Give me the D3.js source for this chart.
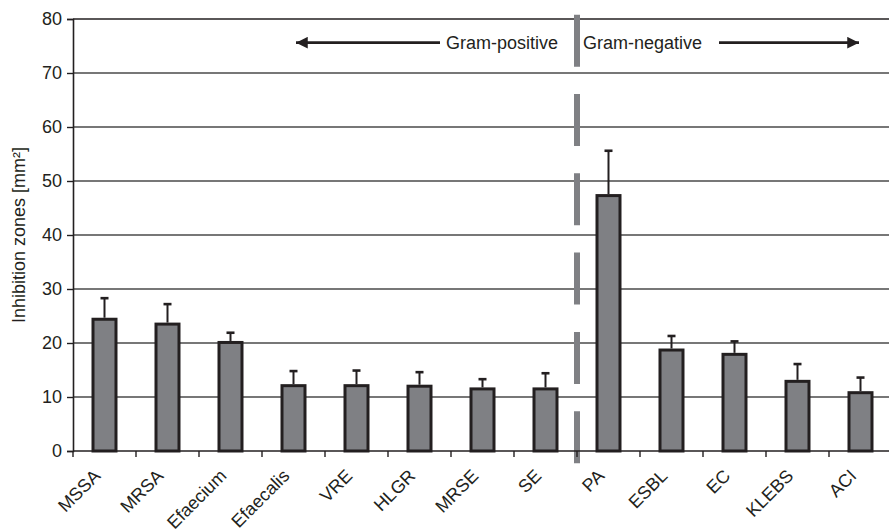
<!DOCTYPE html>
<html>
<head>
<meta charset="utf-8">
<script src="https://cdn.jsdelivr.net/npm/d3@7/dist/d3.min.js"></script>
<style>
  body { margin: 0; background: #fff; }
  svg { display: block; font-family: "Liberation Sans", Arial, sans-serif; }
</style>
</head>
<body>
<svg id="chart" width="889" height="531"></svg>
<script>
// data
var categories = ["MSSA", "MRSA", "Efaecium", "Efaecalis", "VRE", "HLGR", "MRSE", "SE",
                  "PA", "ESBL", "EC", "KLEBS", "ACI"];
var means = [24.4, 23.5, 20.1, 12.1, 12.1, 12.0, 11.5, 11.5, 47.3, 18.7, 17.9, 12.9, 10.8];
var upper = [28.3, 27.2, 21.9, 14.8, 14.9, 14.6, 13.3, 14.4, 55.6, 21.3, 20.3, 16.1, 13.6];
var yTicks = [0, 10, 20, 30, 40, 50, 60, 70, 80];
var firstNegative = "PA";

var svg = d3.select("#chart");
// note: "top" is taken by window.top, so plot edges get their own names
var plotLeft = 73, plotRight = 892, plotTop = 19, plotBottom = 451;
var ink = "#231f20", barFill = "#7f8084";
var fontSize = "18px";

var x = d3.scaleBand()
  .domain(categories)
  .range([plotLeft, plotRight])
  .paddingInner(0.635)
  .paddingOuter(0.3175);
var y = d3.scaleLinear().domain([0, 80]).range([plotBottom, plotTop]);

var rows = categories.map(function (c, i) {
  return { name: c, mean: means[i], upper: upper[i] };
});

// horizontal gridlines
svg.append("g").selectAll("line")
  .data(yTicks.filter(function (d) { return d > 0; }))
  .enter().append("line")
  .attr("x1", plotLeft).attr("x2", 889)
  .attr("y1", function (d) { return y(d); })
  .attr("y2", function (d) { return y(d); })
  .attr("stroke", function (d) { return d === 80 ? ink : "#4a4a4a"; })
  .attr("stroke-width", 1.4);

// y axis
var yAxis = svg.append("g")
  .attr("transform", "translate(" + plotLeft + ",0)")
  .call(d3.axisLeft(y).tickValues(yTicks).tickSize(6).tickPadding(5));
yAxis.select(".domain").attr("stroke", ink).attr("stroke-width", 1.6);
yAxis.selectAll(".tick line").attr("stroke", ink).attr("stroke-width", 1.4);
yAxis.selectAll(".tick text")
  .attr("fill", ink)
  .style("font-size", fontSize)
  .style("font-family", "'Liberation Sans', Arial, sans-serif");

svg.append("text")
  .attr("transform", "translate(25," + ((plotTop + plotBottom) / 2) + ") rotate(-90)")
  .attr("text-anchor", "middle")
  .attr("fill", ink)
  .style("font-size", fontSize)
  .text("Inhibition zones [mm²]");

// divider between gram-positive and gram-negative
var divX = x(firstNegative) - x.step() * x.paddingInner() / 2;
svg.append("line")
  .attr("x1", divX).attr("x2", divX)
  .attr("y1", 14.7).attr("y2", 467)
  .attr("stroke", barFill)
  .attr("stroke-width", 6)
  .attr("stroke-dasharray", "52,27.3");

// bars
svg.append("g").selectAll("rect")
  .data(rows)
  .enter().append("rect")
  .attr("x", function (d) { return x(d.name); })
  .attr("y", function (d) { return y(d.mean); })
  .attr("width", x.bandwidth())
  .attr("height", function (d) { return y(0) - y(d.mean); })
  .attr("fill", barFill)
  .attr("stroke", ink)
  .attr("stroke-width", 3);

// error bars (upper only)
var err = svg.append("g").selectAll("g")
  .data(rows)
  .enter().append("g");
err.append("line")
  .attr("x1", function (d) { return x(d.name) + x.bandwidth() / 2; })
  .attr("x2", function (d) { return x(d.name) + x.bandwidth() / 2; })
  .attr("y1", function (d) { return y(d.mean) - 1.5; })
  .attr("y2", function (d) { return y(d.upper); })
  .attr("stroke", ink)
  .attr("stroke-width", 2);
err.append("line")
  .attr("x1", function (d) { return x(d.name) + x.bandwidth() / 2 - 4; })
  .attr("x2", function (d) { return x(d.name) + x.bandwidth() / 2 + 4; })
  .attr("y1", function (d) { return y(d.upper); })
  .attr("y2", function (d) { return y(d.upper); })
  .attr("stroke", ink)
  .attr("stroke-width", 2.6);

// x axis line and ticks at the band edges
svg.append("line")
  .attr("x1", plotLeft).attr("x2", 889)
  .attr("y1", plotBottom).attr("y2", plotBottom)
  .attr("stroke", ink).attr("stroke-width", 1.6);
svg.append("g").selectAll("line")
  .data(d3.range(categories.length + 1))
  .enter().append("line")
  .attr("x1", function (i) { return plotLeft + i * x.step(); })
  .attr("x2", function (i) { return plotLeft + i * x.step(); })
  .attr("y1", plotBottom).attr("y2", plotBottom + 6)
  .attr("stroke", ink).attr("stroke-width", 1.4);

// category labels, rotated
svg.append("g").selectAll("text")
  .data(categories)
  .enter().append("text")
  .attr("transform", function (d) {
    return "translate(" + (x(d) + x.bandwidth() / 2 - 3) + "," + (plotBottom + 26) + ") rotate(-45)";
  })
  .attr("text-anchor", "end")
  .attr("fill", ink)
  .style("font-size", fontSize)
  .text(function (d) { return d; });

// gram annotations with arrows
var defs = svg.append("defs");
defs.append("marker")
  .attr("id", "head")
  .attr("viewBox", "0 0 10 10")
  .attr("refX", 10).attr("refY", 5)
  .attr("markerWidth", 4.2).attr("markerHeight", 4.2)
  .attr("orient", "auto-start-reverse")
  .append("path")
  .attr("d", "M0,0 L10,5 L0,10 z")
  .attr("fill", ink);

var labelY = 42.7;
svg.append("line")
  .attr("x1", 296).attr("x2", 440)
  .attr("y1", labelY).attr("y2", labelY)
  .attr("stroke", ink).attr("stroke-width", 2.8)
  .attr("marker-start", "url(#head)");
svg.append("line")
  .attr("x1", 719).attr("x2", 859)
  .attr("y1", labelY).attr("y2", labelY)
  .attr("stroke", ink).attr("stroke-width", 2.8)
  .attr("marker-end", "url(#head)");

svg.append("text")
  .attr("x", 558).attr("y", labelY + 6.5)
  .attr("text-anchor", "end")
  .attr("fill", ink)
  .style("font-size", fontSize)
  .text("Gram-positive");
svg.append("text")
  .attr("x", 583).attr("y", labelY + 6.5)
  .attr("fill", ink)
  .style("font-size", fontSize)
  .text("Gram-negative");
</script>
</body>
</html>
